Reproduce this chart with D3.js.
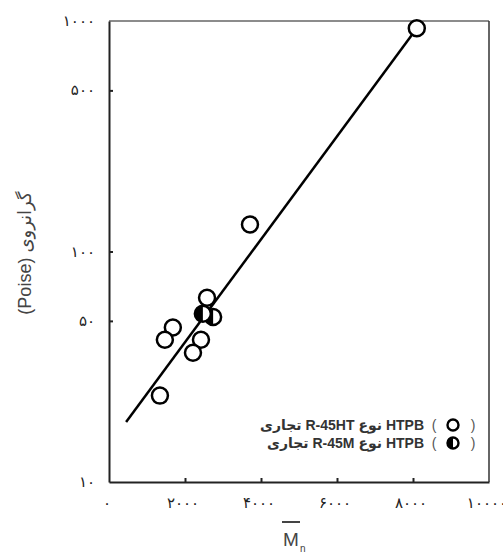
<!DOCTYPE html>
<html>
<head>
<meta charset="utf-8">
<script src="https://cdn.jsdelivr.net/npm/d3@7"></script>
<style>
  body { margin: 0; background: #fff; }
  text { font-family: "Liberation Sans", "DejaVu Sans", Arial, sans-serif; }
</style>
</head>
<body>
<svg id="chart" width="503" height="554"></svg>
<script>
// open circles: commercial R-45HT
const mnOpen = [8100, 3710, 2580, 1680, 1470, 2420, 2210, 1340];
const viscOpen = [930, 131, 63, 46.8, 41.4, 41.4, 36.4, 23.7];
// half filled circles: commercial R-45M
const mnHalf = [2740, 2470];
const viscHalf = [52, 53.7];
// fitted line end points
const fitMn = [450, 8100];
const fitVisc = [18.2, 930];

const xTicks = [0, 2000, 4000, 6000, 8000, 10000];
const xTickLabels = ["۰", "۲۰۰۰", "۴۰۰۰", "۶۰۰۰", "۸۰۰۰", "۱۰۰۰۰"];
const yTicks = [10, 50, 100, 500, 1000];
const yTickLabels = ["۱۰", "۵۰", "۱۰۰", "۵۰۰", "۱۰۰۰"];
const legendLabels = ["تجاری R-45HT نوع HTPB", "تجاری R-45M نوع HTPB"];

const svg = d3.select("#chart");
const margin = { top: 21, right: 14, bottom: 72, left: 109 };
const width = 503, height = 554;

const x = d3.scaleLinear().domain([0, 10000]).range([margin.left, width - margin.right]);
const y = d3.scaleLog().domain([10, 1000]).range([height - margin.bottom, margin.top]);

// frame
svg.append("line")
  .attr("x1", x(0)).attr("x2", x(10000)).attr("y1", y(1000)).attr("y2", y(1000))
  .style("stroke", "#666").style("stroke-width", 1.5);
svg.append("line")
  .attr("x1", x(10000)).attr("x2", x(10000)).attr("y1", y(1000)).attr("y2", y(10))
  .style("stroke", "#333").style("stroke-width", 1.5);

const xAxis = svg.append("g")
  .attr("transform", `translate(0,${y(10)})`)
  .call(d3.axisBottom(x).tickValues(xTicks.slice(1, 5)).tickSizeInner(-4).tickSizeOuter(0).tickFormat(""));
xAxis.select(".domain").style("stroke", "#222").style("stroke-width", 2);
xAxis.selectAll(".tick line").style("stroke", "#222").style("stroke-width", 2);

const yAxis = svg.append("g")
  .attr("transform", `translate(${x(0)},0)`)
  .call(d3.axisLeft(y).tickValues([50, 100, 500]).tickSizeInner(-4).tickSizeOuter(0).tickFormat(""));
yAxis.select(".domain").style("stroke", "#222").style("stroke-width", 2);
yAxis.selectAll(".tick line").style("stroke", "#222").style("stroke-width", 2);

// tick labels
svg.selectAll("text.xlab")
  .data(xTicks)
  .join("text")
  .attr("class", "xlab")
  .attr("x", d => x(d) - 2)
  .attr("y", 508)
  .attr("text-anchor", "middle")
  .style("font-size", "15px")
  .style("fill", "#222")
  .text((d, i) => xTickLabels[i]);

svg.selectAll("text.ylab")
  .data(yTicks)
  .join("text")
  .attr("class", "ylab")
  .attr("x", 95)
  .attr("y", d => y(d) + 5)
  .attr("text-anchor", "end")
  .style("font-size", "15px")
  .style("fill", "#222")
  .text((d, i) => yTickLabels[i]);

// axis titles
svg.append("text")
  .attr("transform", "translate(31,253) rotate(-90)")
  .attr("text-anchor", "middle")
  .style("font-size", "18px")
  .style("fill", "#444")
  .text("(Poise) گرانروی");

const mx = 291;
svg.append("text")
  .attr("x", mx).attr("y", 546)
  .attr("text-anchor", "middle")
  .style("font-size", "19px")
  .style("fill", "#444")
  .text("M");
svg.append("text")
  .attr("x", mx + 9).attr("y", 552)
  .style("font-size", "10px")
  .style("fill", "#444")
  .text("n");
svg.append("line")
  .attr("x1", mx - 9).attr("x2", mx + 9).attr("y1", 522).attr("y2", 522)
  .style("stroke", "#444").style("stroke-width", 2);

// fitted line
svg.append("line")
  .attr("x1", x(fitMn[0])).attr("y1", y(fitVisc[0]))
  .attr("x2", x(fitMn[1])).attr("y2", y(fitVisc[1]))
  .style("stroke", "#000").style("stroke-width", 2.5);

const r = 8;
function halfPath(cx, cy, rr) {
  return `M${cx},${cy - rr} A${rr},${rr} 0 0 0 ${cx},${cy + rr} Z`;
}

// half filled points
const half = svg.append("g");
mnHalf.forEach(function (m, i) {
  const cx = x(m), cy = y(viscHalf[i]);
  half.append("circle").attr("cx", cx).attr("cy", cy).attr("r", r)
    .attr("fill", "#fff").attr("stroke", "#000").attr("stroke-width", 2.5);
  half.append("path").attr("d", halfPath(cx, cy, r)).attr("fill", "#000");
});

// open points
svg.append("g")
  .selectAll("circle")
  .data(mnOpen)
  .join("circle")
  .attr("cx", d => x(d))
  .attr("cy", (d, i) => y(viscOpen[i]))
  .attr("r", r)
  .attr("fill", "#fff")
  .attr("stroke", "#000")
  .attr("stroke-width", 2.5);

// legend
const legendY = [425, 443];
legendLabels.forEach(function (lab, i) {
  const ly = legendY[i];
  svg.append("text")
    .attr("x", 424).attr("y", ly + 5)
    .attr("text-anchor", "end")
    .style("font-size", "14px")
    .style("font-weight", "bold")
    .style("fill", "#333")
    .text(lab);
  svg.append("text").attr("x", 434).attr("y", ly + 5).attr("text-anchor", "middle")
    .style("font-size", "14px").style("fill", "#555").text("(");
  svg.append("text").attr("x", 473).attr("y", ly + 5).attr("text-anchor", "middle")
    .style("font-size", "14px").style("fill", "#555").text(")");
  svg.append("circle").attr("cx", 453).attr("cy", ly).attr("r", 5.5)
    .attr("fill", "#fff").attr("stroke", "#000").attr("stroke-width", 2.4);
  if (i === 1) {
    svg.append("path").attr("d", halfPath(453, ly, 5.5)).attr("fill", "#000");
  }
});
</script>
</body>
</html>
